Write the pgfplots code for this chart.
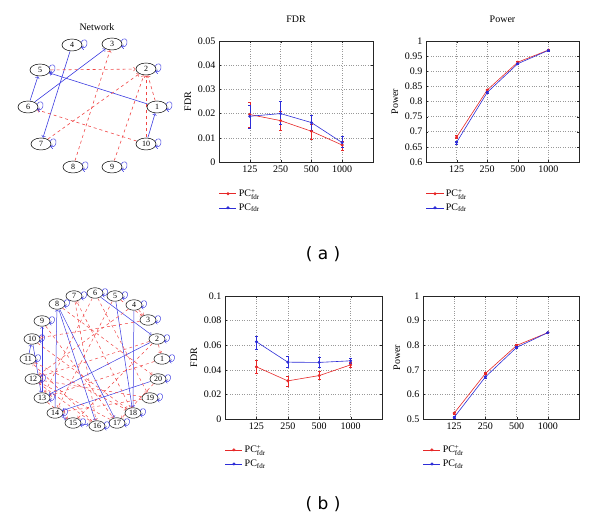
\documentclass[border=0pt]{standalone}
\usepackage{amsmath}
\usepackage{fontspec}
\setmainfont{Liberation Serif}
\newfontfamily\labfont{DejaVu Sans}
\usepackage{pgfplots}
\usepackage{pgfplotstable}
\pgfplotsset{compat=1.18}
\usetikzlibrary{shapes.geometric}

\definecolor{mred}{RGB}{230,40,40}
\definecolor{mblue}{RGB}{45,45,215}
\definecolor{ered}{RGB}{240,70,70}
\definecolor{eblue}{RGB}{60,60,225}

\pgfdeclareplotmark{loopA}{%
 \pgfpathmoveto{\pgfqpoint{9pt}{2.5pt}}%
 \pgfpathcurveto{\pgfqpoint{11pt}{7pt}}{\pgfqpoint{16pt}{5.5pt}}{\pgfqpoint{15pt}{1pt}}%
 \pgfpathcurveto{\pgfqpoint{14pt}{-2.5pt}}{\pgfqpoint{12pt}{-4pt}}{\pgfqpoint{9.5pt}{-2.5pt}}%
 \pgfusepathqstroke
 \pgfpathmoveto{\pgfqpoint{12pt}{-0.8pt}}%
 \pgfpathlineto{\pgfqpoint{9.5pt}{-2.5pt}}%
 \pgfpathlineto{\pgfqpoint{11.8pt}{-4.8pt}}%
 \pgfusepathqstroke
}
\pgfdeclareplotmark{loopB}{%
 \pgfpathmoveto{\pgfqpoint{7pt}{2.2pt}}%
 \pgfpathcurveto{\pgfqpoint{9pt}{6pt}}{\pgfqpoint{13.5pt}{4.5pt}}{\pgfqpoint{12.5pt}{0.5pt}}%
 \pgfpathcurveto{\pgfqpoint{11.5pt}{-2.5pt}}{\pgfqpoint{9.5pt}{-3.5pt}}{\pgfqpoint{7.5pt}{-2.2pt}}%
 \pgfusepathqstroke
 \pgfpathmoveto{\pgfqpoint{9.8pt}{-0.6pt}}%
 \pgfpathlineto{\pgfqpoint{7.5pt}{-2.2pt}}%
 \pgfpathlineto{\pgfqpoint{9.4pt}{-4.3pt}}%
 \pgfusepathqstroke
}

% one network edge, shortened to the ellipse borders (#2,#3 = half axes of the ellipses)
\newcommand{\edge}[7]{%
 \pgfmathsetmacro{\eang}{atan2(#7-#5,#6-#4)}%
 \pgfmathsetmacro{\err}{1/sqrt((cos(\eang)/#2)^2+(sin(\eang)/#3)^2)}%
 \edef\etmp{\noexpand\addplot[#1,shorten >=\err pt,shorten <=\err pt] coordinates {(#4,#5) (#6,#7)};}%
 \etmp}
\newcommand{\rA}[4]{\edge{ered,dashed,line width=0.6pt,-to}{10.5}{6.5}{#1}{#2}{#3}{#4}}
\newcommand{\bA}[4]{\edge{eblue,line width=0.6pt,-to}{10.5}{6.5}{#1}{#2}{#3}{#4}}
\newcommand{\rB}[4]{\edge{ered,dashed,line width=0.5pt,-to}{8.5}{5.7}{#1}{#2}{#3}{#4}}
\newcommand{\bB}[4]{\edge{eblue,line width=0.5pt,-to}{8.5}{5.7}{#1}{#2}{#3}{#4}}

\pgfplotsset{
 panel/.style={scale only axis, anchor=south west,
  xmin=0, xmax=5, xtick={1,2,3,4}, xticklabels={125,250,500,1000},
  grid=major, grid style={dotted, gray!80, line width=0.5pt},
  axis line style={black!85, line width=0.6pt},
  tick align=inside, major tick length=2pt, tick style={black!85},
  /pgf/number format/assume math mode=true,
  scaled y ticks=false,
  yticklabel style={/pgf/number format/fixed, /pgf/number format/precision=2},
  title style={yshift=9pt},
  legend style={draw=none, fill=none, anchor=north west, row sep=1.5pt, font=\normalsize},
  legend cell align=left,
 },
 eb/.style={error bars/.cd, y dir=both, y explicit, error mark options={rotate=90, mark size=1.4pt, line width=0.5pt}},
 netnodesA/.style={only marks, mark=none, point meta=explicit symbolic, nodes near coords,
  nodes near coords style={ellipse, draw=black, fill=white, inner sep=0pt, minimum width=20pt, minimum height=12pt, anchor=center, font=\fontsize{8}{8}\selectfont, line width=0.5pt}},
 netnodesB/.style={only marks, mark=none, point meta=explicit symbolic, nodes near coords,
  nodes near coords style={ellipse, draw=black, fill=white, inner sep=0pt, minimum width=16pt, minimum height=10.5pt, anchor=center, font=\fontsize{8}{8}\selectfont, line width=0.5pt}},
}

\pgfplotstableread{
x y lab
157 107 1
146 69 2
112 44 3
72 45 4
40 70 5
28 107 6
41 144 7
73 167 8
112 167 9
146 144 10
}\nodesA

\pgfplotstableread{
x y lab
162 359 1
157 339 2
148 320 3
134 305 4
115 296 5
95 293 6
74 296 7
57 304 8
42 321 9
32 339 10
28 359 11
33 379 12
42 398 13
55 413 14
73 423 15
97 426 16
117 423 17
133 413 18
150 398 19
158 379 20
}\nodesB

\begin{document}
\begin{tikzpicture}
\path[use as bounding box] (0,0) rectangle (600pt,521pt);

% ---------------- Network (a)
\begin{axis}[at={(0pt,331pt)}, anchor=south west, scale only axis, width=190pt, height=190pt,
  xmin=0, xmax=190, ymin=0, ymax=190, y dir=reverse, hide axis, clip=false]
\bA{72}{45}{41}{144}
\bA{28}{107}{112}{44}
\bA{28}{107}{40}{70}
\bA{157}{107}{40}{70}
\bA{146}{144}{157}{107}
\rA{73}{167}{112}{44}
\rA{41}{144}{146}{69}
\rA{146}{144}{28}{107}
\rA{146}{144}{146}{69}
\rA{112}{167}{146}{69}
\rA{157}{107}{146}{69}
\rA{40}{70}{146}{69}
\addplot[netnodesA] table[x=x, y=y, meta=lab] {\nodesA};
\addplot[only marks, mark=loopA, eblue, line width=0.45pt] table[x=x, y=y] {\nodesA};
\node[font=\normalsize] at (axis cs:97,27) {Network};
\end{axis}

% ---------------- FDR (a)
\begin{axis}[panel, at={(219pt,359pt)}, width=154pt, height=121pt,
  ymin=0, ymax=0.05, ytick={0,0.01,0.02,0.03,0.04,0.05},
  title={FDR}, ylabel={FDR},
  legend style={at={(-0.02,-0.19)}}]
\addplot[mred, mark=*, mark size=1.2pt, line width=0.6pt, eb] table[x=x, y=y, y error plus=ep, y error minus=em] {
x y ep em
1 0.0196 0.0049 0.0051
2 0.0171 0.0039 0.0041
3 0.0127 0.0028 0.0032
4 0.0070 0.0015 0.0023
};
\addplot[mblue, mark=*, mark size=1.2pt, line width=0.6pt, eb] table[x=x, y=y, y error plus=ep, y error minus=em] {
x y ep em
1 0.0189 0.0046 0.0049
2 0.0200 0.0050 0.0045
3 0.0163 0.0032 0.0033
4 0.0080 0.0025 0.0020
};
\legend{PC$^{\text{+}}_{\text{fdr}}$, PC$_{\text{fdr}}$}
\end{axis}

% ---------------- Power (a)
\begin{axis}[panel, at={(426pt,359pt)}, width=153pt, height=121pt,
  ymin=0.6, ymax=1, ytick={0.6,0.65,0.7,0.75,0.8,0.85,0.9,0.95,1},
  title={Power}, ylabel={Power},
  legend style={at={(-0.02,-0.19)}}]
\addplot[mred, mark=*, mark size=1.2pt, line width=0.6pt, eb] table[x=x, y=y, y error plus=ep, y error minus=em] {
x y ep em
1 0.682 0.005 0.005
2 0.838 0.004 0.004
3 0.930 0.003 0.003
4 0.970 0.002 0.002
};
\addplot[mblue, mark=*, mark size=1.2pt, line width=0.6pt, eb] table[x=x, y=y, y error plus=ep, y error minus=em] {
x y ep em
1 0.665 0.005 0.008
2 0.830 0.004 0.004
3 0.925 0.003 0.003
4 0.969 0.002 0.002
};
\legend{PC$^{\text{+}}_{\text{fdr}}$, PC$_{\text{fdr}}$}
\end{axis}

\node[font=\labfont\fontsize{17}{17}\selectfont] at (323pt,267pt) {( a )};

% ---------------- Network (b)
\begin{axis}[at={(0pt,61pt)}, anchor=south west, scale only axis, width=190pt, height=200pt,
  xmin=0, xmax=190, ymin=260, ymax=460, y dir=reverse, hide axis, clip=false]
\bB{57}{304}{97}{426}
\bB{57}{304}{117}{423}
\bB{95}{293}{157}{339}
\bB{115}{296}{133}{413}
\bB{134}{305}{133}{413}
\bB{157}{339}{42}{398}
\bB{158}{379}{55}{413}
\bB{55}{413}{57}{304}
\bB{42}{398}{42}{321}
\bB{32}{339}{42}{398}
\bB{28}{359}{32}{339}
\bB{55}{413}{73}{423}
\bB{73}{423}{97}{426}
\rB{74}{296}{97}{426}
\rB{95}{293}{42}{398}
\rB{95}{293}{150}{398}
\rB{115}{296}{148}{320}
\rB{134}{305}{148}{320}
\rB{134}{305}{33}{379}
\rB{148}{320}{32}{339}
\rB{157}{339}{33}{379}
\rB{157}{339}{162}{359}
\rB{32}{339}{133}{413}
\rB{42}{321}{117}{423}
\rB{57}{304}{158}{379}
\rB{28}{359}{133}{413}
\rB{33}{379}{97}{426}
\rB{42}{398}{73}{423}
\rB{117}{423}{33}{379}
\rB{150}{398}{55}{413}
\rB{97}{426}{28}{359}
\rB{133}{413}{74}{296}
\rB{115}{296}{55}{413}
\rB{157}{339}{73}{423}
\rB{162}{359}{42}{398}
\rB{150}{398}{33}{379}
\rB{158}{379}{117}{423}
\addplot[netnodesB] table[x=x, y=y, meta=lab] {\nodesB};
\addplot[only marks, mark=loopB, eblue, line width=0.45pt] table[x=x, y=y] {\nodesB};
\end{axis}

% ---------------- FDR (b)
\begin{axis}[panel, at={(225pt,102pt)}, width=157pt, height=123pt,
  ymin=0, ymax=0.1, ytick={0,0.02,0.04,0.06,0.08,0.1},
  ylabel={FDR},
  legend style={at={(-0.02,-0.18)}}]
\addplot[mred, mark=*, mark size=1.2pt, line width=0.6pt, eb] table[x=x, y=y, y error plus=ep, y error minus=em] {
x y ep em
1 0.0424 0.0056 0.0054
2 0.0310 0.0040 0.0040
3 0.0353 0.0037 0.0033
4 0.0440 0.0020 0.0020
};
\addplot[mblue, mark=*, mark size=1.2pt, line width=0.6pt, eb] table[x=x, y=y, y error plus=ep, y error minus=em] {
x y ep em
1 0.0628 0.0046 0.0058
2 0.0462 0.0048 0.0042
3 0.0460 0.0040 0.0040
4 0.0473 0.0022 0.0023
};
\legend{PC$^{\text{+}}_{\text{fdr}}$, PC$_{\text{fdr}}$}
\end{axis}

% ---------------- Power (b)
\begin{axis}[panel, at={(423pt,102pt)}, width=156pt, height=123pt,
  ymin=0.5, ymax=1, ytick={0.5,0.6,0.7,0.8,0.9,1},
  ylabel={Power},
  legend style={at={(-0.02,-0.18)}}]
\addplot[mred, mark=*, mark size=1.2pt, line width=0.6pt, eb] table[x=x, y=y, y error plus=ep, y error minus=em] {
x y ep em
1 0.524 0.004 0.004
2 0.685 0.004 0.004
3 0.799 0.003 0.003
4 0.851 0.002 0.002
};
\addplot[mblue, mark=*, mark size=1.2pt, line width=0.6pt, eb] table[x=x, y=y, y error plus=ep, y error minus=em] {
x y ep em
1 0.507 0.004 0.004
2 0.671 0.004 0.004
3 0.791 0.003 0.003
4 0.851 0.002 0.002
};
\legend{PC$^{\text{+}}_{\text{fdr}}$, PC$_{\text{fdr}}$}
\end{axis}

\node[font=\labfont\fontsize{17}{17}\selectfont] at (323pt,17pt) {( b )};
\end{tikzpicture}
\end{document}
